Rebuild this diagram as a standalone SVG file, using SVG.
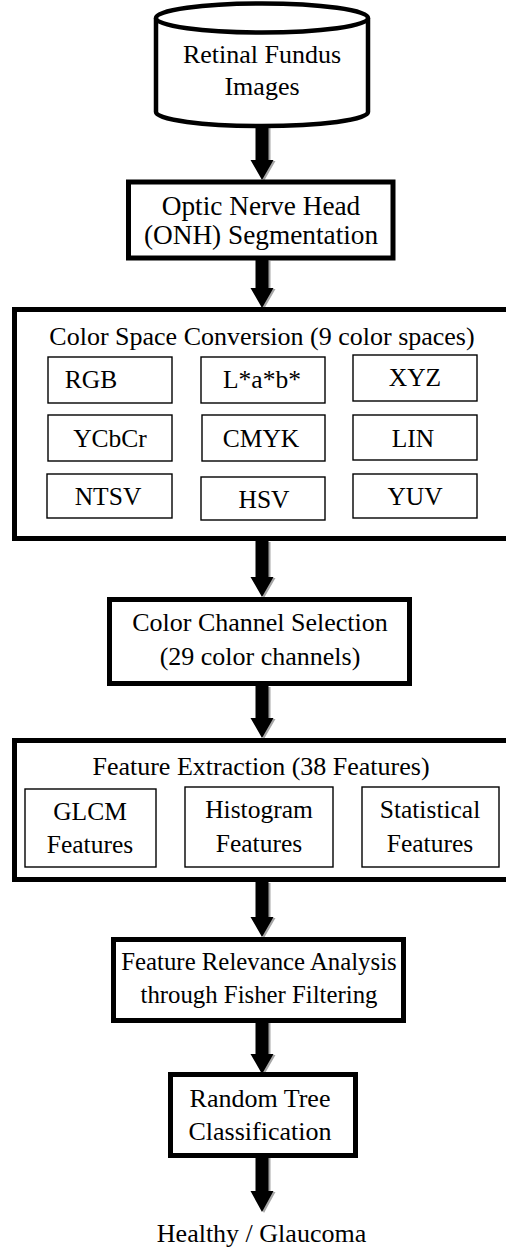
<svg xmlns="http://www.w3.org/2000/svg" width="506" height="1251" viewBox="0 0 506 1251" font-family="'Liberation Serif', 'DejaVu Serif', serif">
<style>
text{font-family:'Liberation Serif','DejaVu Serif',serif;font-size:26px;fill:#000;text-anchor:middle}
.t27{font-size:27.3px}
.t25{font-size:24.8px}
.s{font-size:25.5px}
.box{fill:#fff;stroke:#000;stroke-width:5}
.inner{fill:#fff;stroke:#000;stroke-width:1.4}
.arr{fill:#000}
.sh{fill:#a6a6a6}
</style>
<rect width="506" height="1251" fill="#fff"/>
<g id="connectors">
<g transform="translate(2,1)" class="sh">
<path d="M255.5,127 H268.5 V160 H273.5 L262,180 L250.5,160 H255.5 Z"/>
<path d="M255.5,260 H268.5 V288 H273.5 L262,308 L250.5,288 H255.5 Z"/>
<path d="M255.5,541 H268.5 V577 H273.5 L262,597 L250.5,577 H255.5 Z"/>
<path d="M255.5,686 H268.5 V718 H273.5 L262,738 L250.5,718 H255.5 Z"/>
<path d="M255.5,882 H268.5 V917 H273.5 L262,937 L250.5,917 H255.5 Z"/>
<path d="M255.5,1022 H268.5 V1054 H273.5 L262,1074 L250.5,1054 H255.5 Z"/>
<path d="M255.5,1157 H268.5 V1191 H273.5 L262,1212 L250.5,1191 H255.5 Z"/>
</g>
<g class="arr">
<path d="M255.5,127 H268.5 V160 H273.5 L262,180 L250.5,160 H255.5 Z"/>
<path d="M255.5,260 H268.5 V288 H273.5 L262,308 L250.5,288 H255.5 Z"/>
<path d="M255.5,541 H268.5 V577 H273.5 L262,597 L250.5,577 H255.5 Z"/>
<path d="M255.5,686 H268.5 V718 H273.5 L262,738 L250.5,718 H255.5 Z"/>
<path d="M255.5,882 H268.5 V917 H273.5 L262,937 L250.5,917 H255.5 Z"/>
<path d="M255.5,1022 H268.5 V1054 H273.5 L262,1074 L250.5,1054 H255.5 Z"/>
<path d="M255.5,1157 H268.5 V1191 H273.5 L262,1212 L250.5,1191 H255.5 Z"/>
</g>
</g>
<g id="n1-retinal-fundus-images">
<path d="M156,18 V112 A106,14 0 0 0 368,112 V18" fill="#fff" stroke="#000" stroke-width="4.5"/>
<ellipse cx="262" cy="18" rx="106" ry="14.5" fill="#fff" stroke="#000" stroke-width="4.5"/>
<text x="262" y="63">Retinal Fundus</text>
<text x="262" y="95">Images</text>
</g>
<g id="n2-onh-segmentation">
<rect class="box" x="128.5" y="182" width="264.5" height="76"/>
<text class="t27" x="261" y="215">Optic Nerve Head</text>
<text class="t27" x="261" y="244">(ONH) Segmentation</text>
</g>
<g id="n3-color-space-conversion">
<rect class="box" x="14.5" y="309.5" width="500" height="229"/>
<text x="262" y="345">Color Space Conversion (9 color spaces)</text>
<g id="cs-rgb"><rect class="inner" x="48" y="357" width="124" height="46"/><text class="s" x="91" y="388">RGB</text></g>
<g id="cs-lab"><rect class="inner" x="201" y="357" width="124" height="46"/><text class="s" x="262" y="388">L*a*b*</text></g>
<g id="cs-xyz"><rect class="inner" x="353" y="355" width="124" height="46"/><text class="s" x="415" y="386">XYZ</text></g>
<g id="cs-ycbcr"><rect class="inner" x="48" y="415" width="124" height="46"/><text class="s" x="110" y="447">YCbCr</text></g>
<g id="cs-cmyk"><rect class="inner" x="202" y="415" width="123" height="46"/><text class="s" x="261" y="447">CMYK</text></g>
<g id="cs-lin"><rect class="inner" x="353" y="415" width="124" height="45"/><text class="s" x="413" y="447">LIN</text></g>
<g id="cs-ntsv"><rect class="inner" x="47" y="474" width="125" height="44"/><text class="s" x="108" y="505">NTSV</text></g>
<g id="cs-hsv"><rect class="inner" x="201" y="477" width="124" height="43"/><text class="s" x="264" y="508">HSV</text></g>
<g id="cs-yuv"><rect class="inner" x="353" y="474" width="124" height="44"/><text class="s" x="415" y="505">YUV</text></g>
</g>
<g id="n4-color-channel-selection">
<rect class="box" x="109.5" y="599.5" width="300" height="84"/>
<text x="260" y="631">Color Channel Selection</text>
<text x="260" y="665">(29 color channels)</text>
</g>
<g id="n5-feature-extraction">
<rect class="box" x="14.5" y="740.5" width="500" height="139"/>
<text x="261" y="775">Feature Extraction (38 Features)</text>
<g id="fe-glcm"><rect class="inner" x="25" y="789" width="131" height="78"/><text class="s" x="90" y="820">GLCM</text><text class="s" x="90" y="853">Features</text></g>
<g id="fe-histogram"><rect class="inner" x="185" y="787" width="148" height="80"/><text class="s" x="259" y="818">Histogram</text><text class="s" x="259" y="852">Features</text></g>
<g id="fe-statistical"><rect class="inner" x="362" y="787" width="137" height="80"/><text class="s" x="430" y="818">Statistical</text><text class="s" x="430" y="852">Features</text></g>
</g>
<g id="n6-feature-relevance">
<rect class="box" x="113.5" y="939.5" width="290" height="81"/>
<text class="t25" x="259" y="970">Feature Relevance Analysis</text>
<text class="t25" x="259" y="1003">through Fisher Filtering</text>
</g>
<g id="n7-random-tree">
<rect class="box" x="170.5" y="1074.5" width="185" height="81"/>
<text x="260" y="1107">Random Tree</text>
<text x="260" y="1140">Classification</text>
</g>
<g id="n8-output">
<text x="261.5" y="1242">Healthy / Glaucoma</text>
</g>
</svg>
